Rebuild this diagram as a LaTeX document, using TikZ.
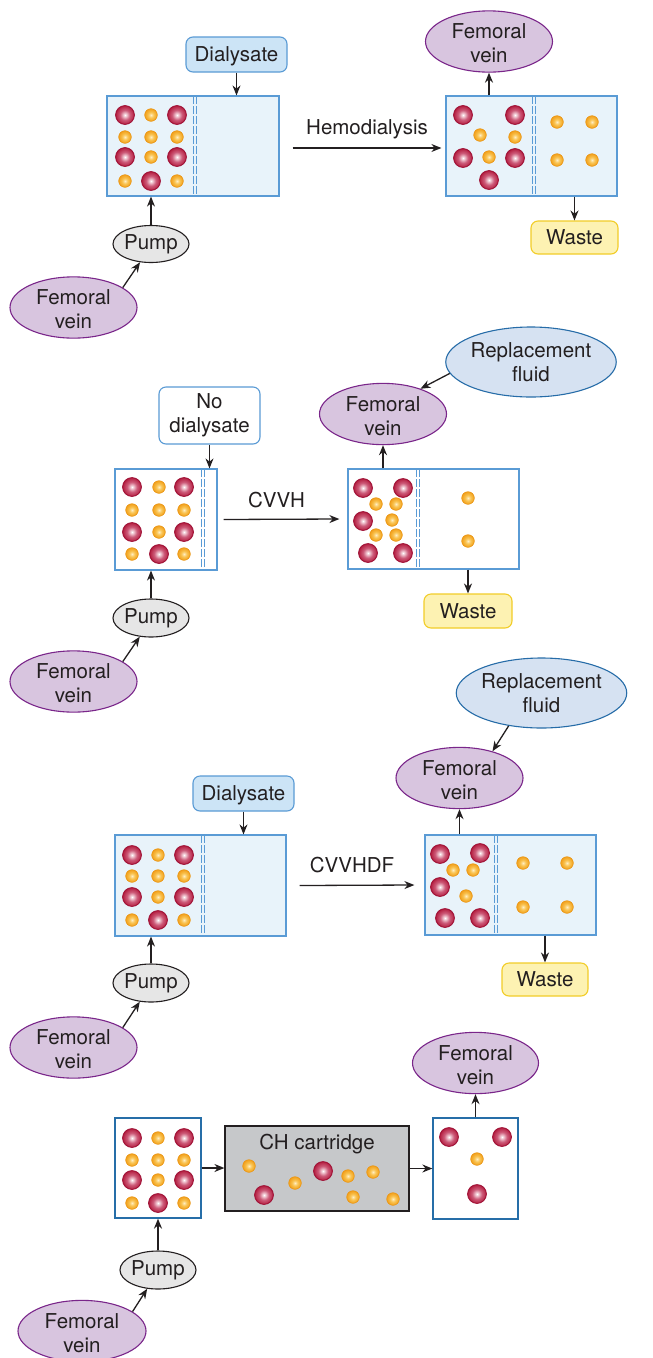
\documentclass[tikz,border=0pt]{standalone}
\usepackage{fontspec}
\setmainfont{TeX Gyre Heros}
\usetikzlibrary{arrows.meta,shapes.geometric}
\definecolor{ink}{RGB}{35,31,32}
\definecolor{boxblue}{RGB}{90,155,213}
\definecolor{boxfill}{RGB}{232,243,250}
\definecolor{darkblue}{RGB}{38,110,168}
\definecolor{dialfill}{RGB}{204,228,246}
\definecolor{veinfill}{RGB}{216,197,223}
\definecolor{veinline}{RGB}{122,38,138}
\definecolor{repfill}{RGB}{214,226,242}
\definecolor{repline}{RGB}{38,108,168}
\definecolor{pumpfill}{RGB}{230,230,230}
\definecolor{wastefill}{RGB}{253,242,178}
\definecolor{wasteline}{RGB}{242,205,40}
\definecolor{cartfill}{RGB}{198,200,202}
\definecolor{redhi}{RGB}{245,215,222}
\definecolor{redmid}{RGB}{205,92,122}
\definecolor{redout}{RGB}{180,30,64}
\definecolor{redrim}{RGB}{160,18,55}
\definecolor{orhi}{RGB}{255,238,195}
\definecolor{ormid}{RGB}{249,195,80}
\definecolor{orout}{RGB}{242,160,28}
\definecolor{orrim}{RGB}{234,150,20}
\pgfdeclareradialshading{redbead}{\pgfpoint{0bp}{0bp}}{color(0bp)=(white); color(3bp)=(redhi); color(13bp)=(redmid); color(25bp)=(redout); color(50bp)=(redout)}
\pgfdeclareradialshading{orbead}{\pgfpoint{0bp}{0bp}}{color(0bp)=(orhi); color(11bp)=(ormid); color(25bp)=(orout); color(50bp)=(orout)}
\newcommand\rbead[2]{\shadedraw[shading=redbead, draw=redrim, line width=0.9pt] (#1,#2) circle[radius=9.4pt];}
\newcommand\obead[2]{\shadedraw[shading=orbead, draw=orrim, line width=0.6pt] (#1,#2) circle[radius=6.3pt];}
\newcommand\vstrut{\rule{0pt}{19pt}}
\tikzset{
 txt/.style={font=\fontsize{20.5}{24}\selectfont, text=ink},
 chamberA/.style={draw=boxblue, fill=boxfill, line width=1.2pt, inner sep=0pt},
 chamberB/.style={draw=boxblue, fill=white, line width=1.2pt, inner sep=0pt},
 chamberC/.style={draw=darkblue, fill=white, line width=1.3pt, inner sep=0pt},
 cartbox/.style={draw=ink, fill=cartfill, line width=1.2pt, inner sep=0pt},
 dialbox/.style={txt, draw=boxblue, fill=dialfill, line width=1.1pt, rounded corners=7pt, inner sep=0pt, text depth=0pt},
 nodial/.style={txt, align=center, draw=boxblue, fill=white, line width=1.1pt, rounded corners=7pt, inner sep=0pt},
 wastebox/.style={txt, draw=wasteline, fill=wastefill, line width=1.1pt, rounded corners=7pt, inner sep=0pt, text depth=0pt},
 vein/.style={txt, ellipse, align=center, draw=veinline, fill=veinfill, line width=1.1pt, inner sep=0pt, minimum width=127pt, minimum height=60pt},
 repl/.style={txt, ellipse, align=center, draw=repline, fill=repfill, line width=1.1pt, inner sep=0pt, minimum width=170pt, minimum height=70pt},
 pumpnode/.style={txt, ellipse, draw=ink, fill=pumpfill, line width=1.1pt, inner sep=0pt, minimum width=76pt, minimum height=37pt},
 conn/.style={draw=ink, line width=1.3pt, -{Stealth[length=10pt,width=8pt]}},
 membrane/.style={draw=boxblue, line width=0.9pt, dash pattern=on 8pt off 2pt},
}
\begin{document}
\begin{tikzpicture}[x=1pt,y=-1pt]
\fill[white] (0,0) rectangle (653,1358);
\useasboundingbox (0,0) rectangle (653,1358);

% ---------------- Section 1: Hemodialysis ----------------
\node[chamberA, minimum width=172pt, minimum height=100pt] (b1) at (193,146) {};
\node[chamberA, minimum width=171pt, minimum height=100pt] (b2) at (531.5,146) {};
\draw[membrane] (193.5,96) -- (193.5,196);
\draw[membrane] (196.5,96) -- (196.5,196);
\draw[membrane] (532,96) -- (532,196);
\draw[membrane] (535,96) -- (535,196);
\node[dialbox, minimum width=101pt, minimum height=35pt] (dial1) at (236.5,54.5) {Dialysate};
\node[vein] (fvT1) at (489,41.5) {\vstrut Femoral\\vein};
\node[wastebox, minimum width=87pt, minimum height=33pt] (waste1) at (574.5,237.5) {Waste};
\node[pumpnode] (pump1) at (151,244) {Pump};
\node[vein] (fvB1) at (73.5,307.5) {\vstrut Femoral\\vein};
\foreach \x/\y in {125/115,177/115,125/157,177/157,151/181} {\rbead{\x}{\y}}
\foreach \x/\y in {151/115,125/137,151/137,177/137,151/157,125/181,177/181} {\obead{\x}{\y}}
\foreach \x/\y in {463/115,515/115,463/158,515/158,489/180} {\rbead{\x}{\y}}
\foreach \x/\y in {480/135,515/137,489/157,557/122,592/122,557/160,592/160} {\obead{\x}{\y}}
\draw[conn] (dial1.south) -- (dial1.south |- b1.north);
\draw[conn] (pump1.north) -- (pump1.north |- b1.south);
\draw[conn] (fvB1.22) -- (pump1.239);
\draw[conn] ([xshift=13pt,yshift=-2pt]b1.east) -- node[txt, above=5pt]{Hemodialysis} ([xshift=-4pt,yshift=-2pt]b2.west);
\draw[conn] (fvT1.south |- b2.north) -- (fvT1.south);
\draw[conn] (waste1.north |- b2.south) -- (waste1.north);

% ---------------- Section 2: CVVH ----------------
\node[chamberB, minimum width=102pt, minimum height=101pt] (b3) at (166,519.5) {};
\node[chamberB, minimum width=171pt, minimum height=100pt] (b4) at (433.5,519) {};
\draw[membrane] (201,469) -- (201,570);
\draw[membrane] (204,469) -- (204,570);
\draw[membrane] (416,469) -- (416,569);
\draw[membrane] (419,469) -- (419,569);
\node[nodial, minimum width=101pt, minimum height=57pt] (nod2) at (209.5,415.5) {No\\dialysate};
\node[repl] (rep2) at (531,362) {Replacement\\fluid};
\node[vein] (fvT2) at (383,414) {\vstrut Femoral\\vein};
\node[wastebox, minimum width=88pt, minimum height=34pt] (waste2) at (468,611) {Waste};
\node[pumpnode, minimum height=38pt] (pump2) at (151,618) {Pump};
\node[vein] (fvB2) at (73.5,681.5) {\vstrut Femoral\\vein};
\foreach \x/\y in {132/487,184/487,132/532,184/532,159/554} {\rbead{\x}{\y}}
\foreach \x/\y in {159/487,132/510,159/510,184/510,159/532,132/554,184/554} {\obead{\x}{\y}}
\foreach \x/\y in {363/488,403/488,363/521,368/553,403/553} {\rbead{\x}{\y}}
\foreach \x/\y in {376/504,396/504,392/520,376/535,396/535,468/498,468/541} {\obead{\x}{\y}}
\draw[conn] (nod2.south) -- (nod2.south |- b3.north);
\draw[conn] (pump2.north) -- (pump2.north |- b3.south);
\draw[conn] (fvB2.22) -- (pump2.239);
\draw[conn] ([xshift=6pt]b3.east) -- node[txt, above=7pt, xshift=-5pt]{CVVH} ([xshift=-8pt]b4.west);
\draw[conn] (fvT2.south |- b4.north) -- (fvT2.south);
\draw[conn] (waste2.north |- b4.south) -- (waste2.north);
\draw[conn] (rep2.188) -- (fvT2.34);

% ---------------- Section 3: CVVHDF ----------------
\node[chamberA, minimum width=171pt, minimum height=101pt] (b5) at (200.5,885.5) {};
\node[chamberA, minimum width=171pt, minimum height=100pt] (b6) at (510.5,885) {};
\draw[membrane] (201,835) -- (201,936);
\draw[membrane] (204,835) -- (204,936);
\draw[membrane] (494,835) -- (494,935);
\draw[membrane] (497,835) -- (497,935);
\node[dialbox, minimum width=101pt, minimum height=35pt] (dial3) at (243.5,793.5) {Dialysate};
\node[repl] (rep3) at (541.5,693) {Replacement\\fluid};
\node[vein, minimum height=58pt] (fvT3) at (459.5,778) {\vstrut Femoral\\vein};
\node[wastebox, minimum width=86pt, minimum height=33pt] (waste3) at (545,979.5) {Waste};
\node[pumpnode, minimum height=38pt] (pump3) at (151,983) {Pump};
\node[vein] (fvB3) at (73.5,1047.5) {\vstrut Femoral\\vein};
\foreach \x/\y in {132/855,184/855,132/897,184/897,158/920} {\rbead{\x}{\y}}
\foreach \x/\y in {158/855,132/876,158/876,184/876,158/897,132/920,184/920} {\obead{\x}{\y}}
\foreach \x/\y in {440/854,480/853,440/887,445/918,480/918} {\rbead{\x}{\y}}
\foreach \x/\y in {453/870,473/870,466/896,523/863,567/863,523/907,567/907} {\obead{\x}{\y}}
\draw[conn] (dial3.south) -- (dial3.south |- b5.north);
\draw[conn] (pump3.north) -- (pump3.north |- b5.south);
\draw[conn] (fvB3.22) -- (pump3.239);
\draw[conn] ([xshift=13pt]b5.east) -- node[txt, above=8pt, xshift=-5pt]{CVVHDF} ([xshift=-10pt]b6.west);
\draw[conn] (fvT3.south |- b6.north) -- (fvT3.south);
\draw[conn] (waste3.north |- b6.south) -- (waste3.north);
\draw[conn] (rep3.225) -- (fvT3.39);

% ---------------- Section 4: CH cartridge ----------------
\node[chamberC, minimum width=86pt, minimum height=100pt] (b7) at (158,1168) {};
\node[cartbox, minimum width=184pt, minimum height=85pt, label={[txt, anchor=north, yshift=-5pt]north:CH cartridge}] (cart) at (317,1168.5) {};
\node[chamberC, minimum width=85pt, minimum height=101pt] (b8) at (475.5,1168.5) {};
\node[vein, minimum width=126pt] (fvT4) at (475.5,1063) {\vstrut Femoral\\vein};
\node[pumpnode, minimum height=38pt] (pump4) at (158,1270) {Pump};
\node[vein, minimum width=128pt] (fvB4) at (82,1331) {\vstrut Femoral\\vein};
\foreach \x/\y in {132/1138,184/1138,132/1180,184/1180,158/1203} {\rbead{\x}{\y}}
\foreach \x/\y in {158/1138,132/1160,158/1160,184/1160,158/1180,132/1203,184/1203} {\obead{\x}{\y}}
\foreach \x/\y in {264/1195,323/1171} {\rbead{\x}{\y}}
\foreach \x/\y in {249/1166,295/1183,348/1176,373/1172,353/1197,393/1199} {\obead{\x}{\y}}
\foreach \x/\y in {449/1137,502/1137,477/1194} {\rbead{\x}{\y}}
\obead{477}{1159}
\draw[conn] (b7.east) -- (b7.east -| cart.west);
\draw[conn] (cart.east) -- (cart.east -| b8.west);
\draw[conn] (fvT4.south |- b8.north) -- (fvT4.south);
\draw[conn] (pump4.north) -- (pump4.north |- b7.south);
\draw[conn] (fvB4.21) -- (pump4.240);
\end{tikzpicture}
\end{document}
